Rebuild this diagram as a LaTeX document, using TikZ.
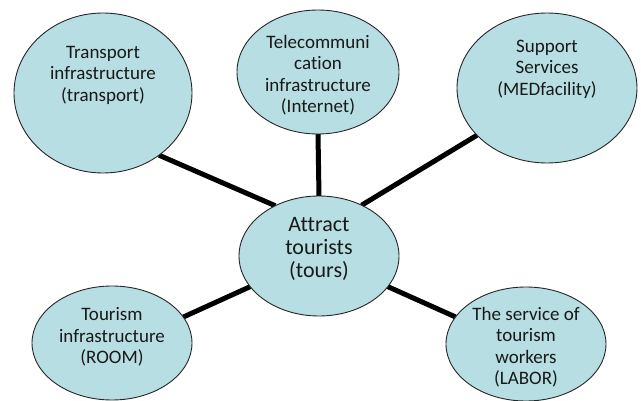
\documentclass[tikz,border=0pt]{standalone}
\usepackage{fontspec}
\setmainfont{Carlito}[Ligatures={NoCommon}]
\usetikzlibrary{shapes.geometric,backgrounds}
\definecolor{bubblefill}{RGB}{183,222,226}
\definecolor{ink}{RGB}{25,25,25}
\begin{document}
\begin{tikzpicture}[x=1pt,y=-1pt,
  bubble/.style={ellipse, draw=black!85, line width=0.9pt, fill=bubblefill,
    inner sep=0pt, outer sep=0pt},
  bubbletext/.style={align=center, text=ink, inner sep=0pt,
    font=\fontsize{19}{21.5}\selectfont},
  hubtext/.style={align=center, text=ink, inner sep=0pt,
    font=\fontsize{22}{23}\selectfont},
  spoke/.style={line width=5pt, black}]
\useasboundingbox (0,0) rectangle (641,401);

% bubbles
\node[bubble, minimum width=178pt, minimum height=160pt] (tl) at (103,93) {};
\node[bubble, minimum width=162pt, minimum height=124pt] (tm) at (318,72) {};
\node[bubble, minimum width=180pt, minimum height=150pt] (tr) at (547,88) {};
\node[bubble, minimum width=160pt, minimum height=120pt] (c)  at (319,256) {};
\node[bubble, minimum width=160pt, minimum height=114pt] (bl) at (112,343) {};
\node[bubble, minimum width=160pt, minimum height=114pt] (br) at (526,344) {};

% texts
\node[bubbletext] (tltext) at (103,75) {Transport\\infrastructure\\(transport)};
\node[bubbletext] (tmtext) at (318,75) {Telecommuni\\cation\\infrastructure\\(Internet)};
\node[bubbletext] (trtext) at (547,69) {Support\\Services\\(MEDfacility)};
\node[hubtext]    (ctext)  at (319,249) {Attract\\tourists\\(tours)};
\node[bubbletext] (bltext) at (112,337) {Tourism\\infrastructure\\(ROOM)};
\node[bubbletext] (brtext) at (526,347) {The service of\\tourism\\workers\\(LABOR)};

% spokes
\begin{scope}[on background layer]
  \draw[spoke] (tl.-48)  -- (c.131);
  \draw[spoke] (tm.-90)  -- (c.90);
  \draw[spoke] (tr.214)  -- (c.50);
  \draw[spoke] (bl.20)   -- (c.204);
  \draw[spoke] (br.159)  -- (c.-24);
\end{scope}
\end{tikzpicture}
\end{document}
